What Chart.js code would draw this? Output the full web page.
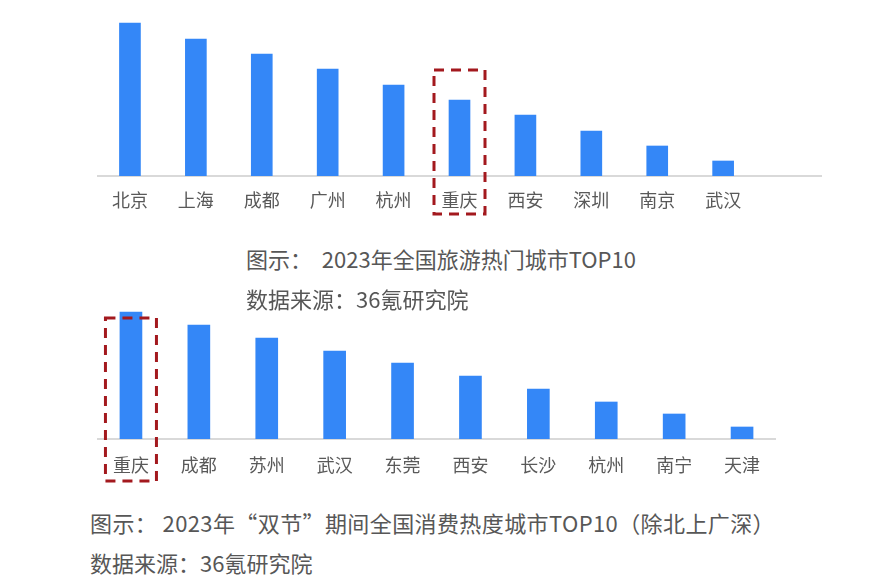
<!DOCTYPE html>
<html>
<head>
<meta charset="utf-8">
<script src="https://cdn.jsdelivr.net/npm/chart.js@4"></script>
<style>
  html, body { margin:0; padding:0; background:#fff; width:879px; height:586px; overflow:hidden; }
  .wrap { position:absolute; }
  .cap { position:absolute; font-family:"Noto Sans CJK SC","Noto Sans",sans-serif; color:#575757; font-size:22px; line-height:28px; white-space:pre; }
</style>
</head>
<body>
<div class="wrap" style="left:97px;top:0px;width:725px;height:240px;"><canvas id="c1"></canvas></div>
<div class="wrap" style="left:97px;top:300px;width:679px;height:200px;"><canvas id="c2"></canvas></div>
<div class="cap" id="cap1" style="left:246px;top:244px;"></div>
<div class="cap" id="src1" style="left:246px;top:284px;"></div>
<div class="cap" id="cap2" style="left:90px;top:508px;letter-spacing:0.4px;"></div>
<div class="cap" id="src2" style="left:90px;top:548px;"></div>
<script>
const topCities = ['北京','上海','成都','广州','杭州','重庆','西安','深圳','南京','武汉'];
const topValues = [153,137,122,107,91,76,61,45,30,15];
const bottomCities = ['重庆','成都','苏州','武汉','东莞','西安','长沙','杭州','南宁','天津'];
const bottomValues = [127,114,101,88,76,63,50,37,25,12];
const caption1 = '图示：  2023年全国旅游热门城市TOP10';
const source1 = '数据来源：36氪研究院';
const caption2 = '图示： 2023年“双节”期间全国消费热度城市TOP10（除北上广深）';
const source2 = '数据来源：36氪研究院';

document.getElementById('cap1').textContent = caption1;
document.getElementById('src1').textContent = source1;
document.getElementById('cap2').textContent = caption2;
document.getElementById('src2').textContent = source2;

const BAR = '#3487f7';
const FONT = '"Noto Sans CJK SC","Noto Sans",sans-serif';

const boxPlugin = {
  id: 'hlBox',
  afterDatasetsDraw(chart, args, opts) {
    const x = chart.scales.x, y = chart.scales.y;
    const ds = chart.data.datasets[0].data;
    const cx = x.getPixelForValue(opts.index);
    const top = y.getPixelForValue(ds[opts.index]) + opts.topOffset;
    const bottom = chart.chartArea.bottom + opts.bottomOffset;
    const ctx = chart.ctx;
    ctx.save();
    ctx.strokeStyle = '#a3191e';
    ctx.lineWidth = 3;
    ctx.setLineDash([10, 7]);
    ctx.strokeRect(cx - opts.half, top, opts.half * 2, bottom - top);
    ctx.restore();
  }
};

function makeChart(id, labels, values, cfg) {
  return new Chart(document.getElementById(id), {
    type: 'bar',
    data: { labels: labels, datasets: [{ data: values, backgroundColor: BAR, barThickness: cfg.bar }] },
    options: {
      responsive: true, maintainAspectRatio: false, animation: false,
      layout: { padding: 0 },
      plugins: { legend: { display: false }, tooltip: { enabled: false }, hlBox: cfg.box },
      scales: {
        x: {
          grid: { display: false, drawTicks: false },
          border: { display: true, color: '#d9d9d9', width: 2 },
          ticks: { color: '#595959', font: { family: FONT, size: 18 }, padding: cfg.pad, maxRotation: 0, autoSkip: false },
          afterFit(scale) { scale.height = cfg.axisH; }
        },
        y: { display: false, min: 0, max: cfg.max }
      }
    },
    plugins: [boxPlugin]
  });
}

makeChart('c1', topCities.concat(['']), topValues.concat([null]),
  { bar: 21, pad: 13, axisH: 64, max: 176, box: { index: 5, half: 25.5, topOffset: -30, bottomOffset: 38 } });
makeChart('c2', bottomCities, bottomValues,
  { bar: 22, pad: 15, axisH: 61, max: 139, box: { index: 0, half: 25.5, topOffset: 6, bottomOffset: 42 } });
</script>
</body>
</html>
